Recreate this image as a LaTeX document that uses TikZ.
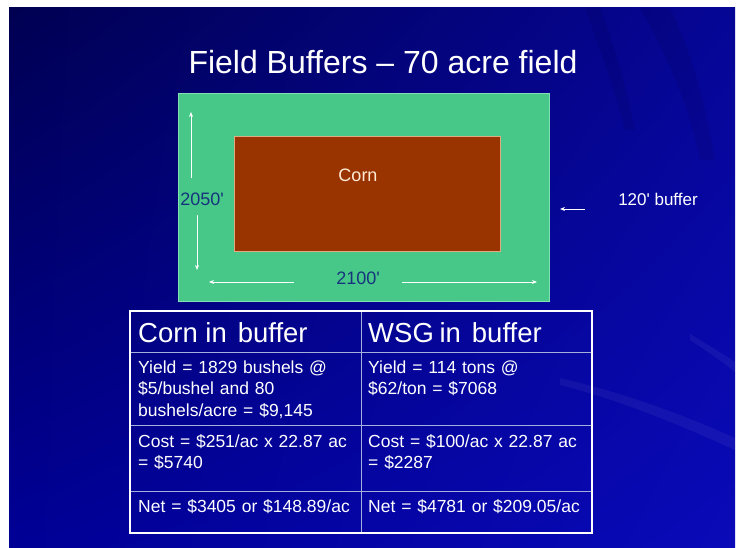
\documentclass[tikz,border=0pt]{standalone}
\usepackage{fontspec}
\setmainfont{Liberation Sans}
\usetikzlibrary{arrows.meta,shadings}

\definecolor{navyA}{RGB}{0,0,82}
\definecolor{navyB}{RGB}{6,6,150}
\definecolor{navyC}{RGB}{0,0,150}
\definecolor{navyD}{RGB}{10,10,185}
\definecolor{buffergreen}{RGB}{72,200,136}
\definecolor{bufferedge}{RGB}{130,225,180}
\definecolor{cornbrown}{RGB}{153,51,0}
\definecolor{cornedge}{RGB}{225,170,130}
\definecolor{cornlabel}{RGB}{255,236,214}
\definecolor{dimblue}{RGB}{22,52,125}
\definecolor{gridline}{RGB}{165,175,220}

\tikzset{
  plot/.style={inner sep=0pt, outer sep=0pt},
  dimlabel/.style={text=dimblue, font=\fontsize{18}{20}\selectfont, inner sep=0pt},
  whitearrow/.style={draw=white, line width=0.9pt, -{Stealth[length=5pt,width=4pt]}},
  headtext/.style={text=white, font=\fontsize{27.5}{30}\selectfont, anchor=base west, inner sep=0pt},
  celltext/.style={text=white, font=\fontsize{17.5}{21.5}\selectfont, anchor=base west,
    inner sep=0pt, text width=260pt, align=left},
  streak/.style={fill=white, opacity=0.05},
  shadowstreak/.style={fill=black, opacity=0.07}
}

\begin{document}
\begin{tikzpicture}[x=1pt,y=-1pt]
\useasboundingbox (0,0) rectangle (739,548);
\fill[white] (0,0) rectangle (739,548);

% slide background
\shade[upper left=navyA, upper right=navyB, lower left=navyC, lower right=navyD]
  (9,8) rectangle (735,548);
\begin{scope}
  \clip (9,8) rectangle (735,548);
  \fill[shadowstreak] (640,8) .. controls (670,60) and (690,110) .. (700,160)
    -- (715,160) .. controls (705,100) and (690,50) .. (670,8) -- cycle;
  \fill[shadowstreak] (585,8) .. controls (600,50) and (615,90) .. (625,130)
    -- (635,130) .. controls (625,80) and (612,40) .. (600,8) -- cycle;
  \fill[streak] (560,385) .. controls (620,400) and (680,425) .. (735,450)
    -- (735,438) .. controls (680,413) and (620,392) .. (560,378) -- cycle;
  \fill[streak] (690,340) .. controls (705,350) and (720,360) .. (735,372)
    -- (735,362) .. controls (720,352) and (705,343) .. (690,334) -- cycle;
\end{scope}

% title
\node[text=white, font=\fontsize{32}{36}\selectfont, inner sep=0pt, anchor=base]
  (title) at (383,74) {Field Buffers -- 70 acre field};

% field with buffer strip
\node[plot, fill=buffergreen, draw=bufferedge, line width=0.8pt,
  minimum width=371pt, minimum height=208pt] (field) at (363.5,197) {};
\node[plot, fill=cornbrown, draw=cornedge, line width=0.6pt,
  minimum width=266pt, minimum height=115pt] (corn) at (367,193.5) {};
\node[text=cornlabel, font=\fontsize{18}{20}\selectfont, inner sep=0pt]
  (cornname) at (358,175) {Corn};

% dimensions
\node[dimlabel] (height) at (202,199) {2050\textquotesingle};
\node[dimlabel] (width) at (358,278) {2100\textquotesingle};
\coordinate (upS) at (191,178);
\coordinate (upE) at (191,112);
\coordinate (dnS) at (197,215);
\coordinate (dnE) at (197,270);
\coordinate (lfS) at (294,282);
\coordinate (lfE) at (209,282);
\coordinate (rtS) at (402,282);
\coordinate (rtE) at (537,282);
\draw[whitearrow] (upS) -- (upE);
\draw[whitearrow] (dnS) -- (dnE);
\draw[whitearrow] (lfS) -- (lfE);
\draw[whitearrow] (rtS) -- (rtE);

% buffer callout
\node[text=white, font=\fontsize{17}{19}\selectfont, inner sep=0pt]
  (bufname) at (658,199) {120\textquotesingle{} buffer};
\coordinate (bufS) at (585,209);
\coordinate (bufE) at (560,209);
\draw[whitearrow] (bufS) -- (bufE);

% comparison table
\coordinate (tNW) at (130,311);
\coordinate (tSE) at (592,533);
\draw[gridline, line width=0.9pt] (130,352) -- (592,352);
\draw[gridline, line width=0.9pt] (130,425) -- (592,425);
\draw[gridline, line width=0.9pt] (130,491) -- (592,491);
\draw[gridline, line width=0.9pt] (361,311) -- (361,533);
\draw[white, line width=2pt] (tNW) rectangle (tSE);

\node[headtext] (h1) at (138,342) {Corn in\hspace{11pt}buffer};
\node[headtext] (h2) at (368,342) {WSG\hspace{-2pt} in\hspace{11pt}buffer};

\node[celltext] (y1) at (138,373)
  {Yield = 1829 bushels @\\ \$5/bushel and 80\\ bushels/acre = \$9,145};
\node[celltext] (y2) at (368,373)
  {Yield = 114 tons @\\ \$62/ton = \$7068};
\node[celltext] (c1) at (138,447)
  {Cost = \$251/ac x 22.87 ac\\ = \$5740};
\node[celltext] (c2) at (368,447)
  {Cost = \$100/ac x 22.87 ac\\ = \$2287};
\node[celltext] (n1) at (138,512) {Net = \$3405 or \$148.89/ac};
\node[celltext] (n2) at (368,512) {Net = \$4781 or \$209.05/ac};
\end{tikzpicture}
\end{document}
